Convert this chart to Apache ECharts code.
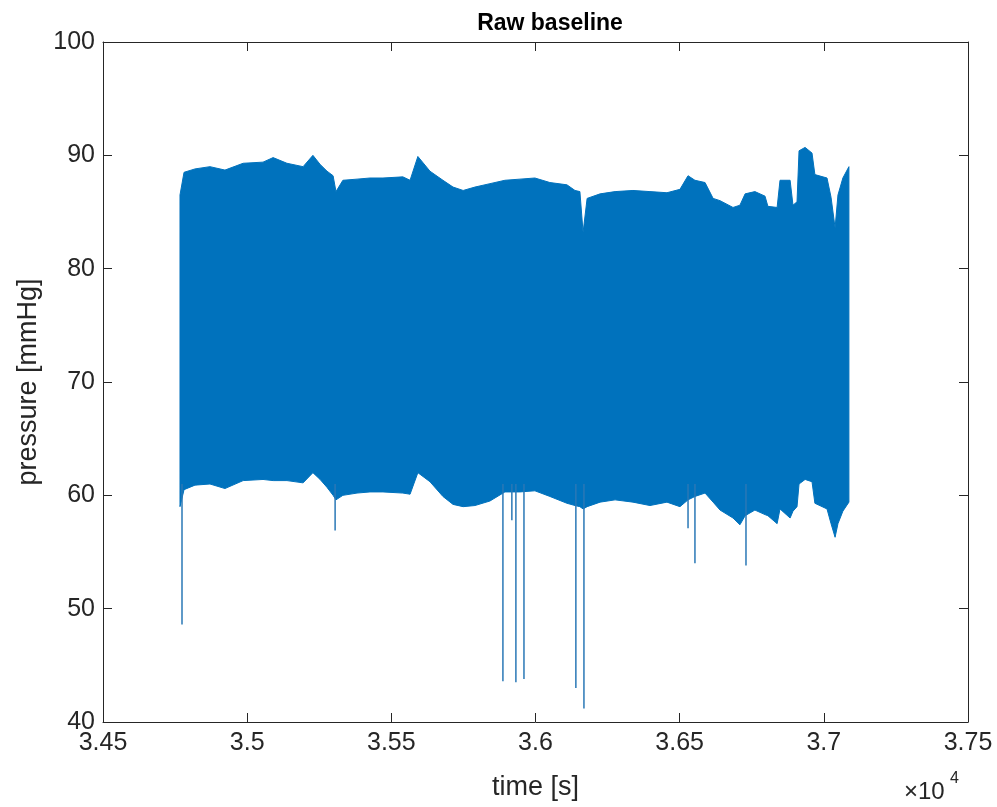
<!DOCTYPE html>
<html>
<head>
<meta charset="utf-8">
<title>Raw baseline</title>
<script src="https://cdn.jsdelivr.net/npm/echarts@6/dist/echarts.min.js"></script>
<style>
    html, body { margin: 0; padding: 0; background: #fff; }
    #chart { width: 997px; height: 807px; }
</style>
</head>
<body>
<div id="chart"></div>
<script>
// envelope of the raw pressure signal (top and bottom of the dense trace)
var times = [34767, 34781, 34819, 34871, 34923, 34986, 35055, 35090, 35138, 35194, 35228, 35253, 35277, 35298, 35308,
    35332, 35381, 35426, 35471, 35540, 35565, 35592, 35634, 35679, 35714, 35749, 35790, 35842, 35894, 35946, 35998,
    36050, 36109, 36137, 36154, 36165, 36179, 36224, 36276, 36338, 36397, 36456,
    36501, 36529, 36553, 36588, 36616, 36640, 36685, 36709, 36727, 36761, 36796, 36806, 36838, 36848, 36883,
    36893, 36907, 36914, 36935, 36959, 36969, 37011, 37025, 37039, 37049, 37066, 37087];
var upper = [86.5, 88.5, 88.8, 89.0, 88.7, 89.3, 89.4, 89.8, 89.3, 89.0, 90.0, 89.2, 88.6, 88.2, 86.8,
    87.8, 87.9, 88.0, 88.0, 88.1, 87.8, 89.9, 88.6, 87.8, 87.2, 86.9, 87.2, 87.5, 87.8, 87.9, 88.0,
    87.6, 87.4, 86.9, 86.8, 83.2, 86.2, 86.6, 86.8, 86.9, 86.8, 86.7,
    87.0, 88.2, 87.8, 87.6, 86.2, 86.0, 85.4, 85.6, 86.6, 86.8, 86.4, 85.5, 85.4, 87.8, 87.8,
    85.6, 85.9, 90.4, 90.7, 90.2, 88.3, 88.0, 86.3, 83.6, 86.5, 88.0, 89.0];
var lower = [59.0, 60.5, 60.9, 61.0, 60.6, 61.3, 61.4, 61.3, 61.3, 61.1, 62.0, 61.4, 60.7, 60.0, 59.6,
    60.0, 60.2, 60.3, 60.3, 60.2, 60.1, 62.0, 61.2, 59.9, 59.2, 59.0, 59.1, 59.5, 60.3, 60.3, 60.4,
    59.9, 59.3, 59.1, 59.0, 58.8, 59.0, 59.4, 59.6, 59.4, 59.1, 59.4,
    59.0, 59.6, 59.9, 60.2, 59.4, 58.7, 58.0, 57.4, 58.2, 58.7, 58.3, 58.2, 57.5, 58.8, 58.0,
    58.6, 59.0, 61.0, 61.4, 61.2, 59.3, 58.8, 57.5, 56.3, 57.5, 58.6, 59.4];

// single downward spikes
var spikeTimes = [34774, 35305, 35887, 35918, 35932, 35960, 36140, 36168, 36529, 36553, 36730];
var spikeMins = [48.6, 56.9, 43.6, 57.8, 43.5, 43.8, 43.0, 41.2, 57.1, 54.0, 53.8];

var myChart = echarts.init(document.getElementById('chart'));

var seriesList = [
    {
        // filled band between the two envelopes
        type: 'custom',
        data: [[times[0], upper[0]]],
        encode: {x: 0, y: 1},
        renderItem: function (params, api) {
            var pts = [];
            for (var i = 0; i < times.length; i++) {
                pts.push(api.coord([times[i], upper[i]]));
            }
            for (var j = times.length - 1; j >= 0; j--) {
                pts.push(api.coord([times[j], lower[j]]));
            }
            return {
                type: 'polygon',
                shape: {points: pts},
                style: {fill: '#0072BD', stroke: '#0072BD', lineWidth: 1}
            };
        }
    }
];
for (var k = 0; k < spikeTimes.length; k++) {
    seriesList.push({
        type: 'line', symbol: 'none',
        data: [[spikeTimes[k], 61], [spikeTimes[k], spikeMins[k]]],
        lineStyle: {color: '#2a78b6', width: 1.5}
    });
}

var textColor = '#262626';
var font = '"Liberation Sans", Arial, sans-serif';

myChart.setOption({
    animation: false,
    title: {
        text: 'Raw baseline',
        left: 545, top: 7, textAlign: 'center',
        textStyle: {fontFamily: font, fontSize: 23, fontWeight: 'bold', color: '#000'}
    },
    grid: {left: 103, right: 29, top: 42, bottom: 85},
    xAxis: [
        {
            type: 'value', min: 34500, max: 37500, interval: 500,
            name: 'time [s]', nameLocation: 'middle', nameGap: 52,
            nameTextStyle: {fontFamily: font, fontSize: 27, color: textColor},
            axisLine: {onZero: false, lineStyle: {color: textColor, width: 1}},
            axisTick: {inside: true, length: 9, lineStyle: {color: textColor}},
            axisLabel: {
                margin: 9, fontFamily: font, fontSize: 25, color: textColor,
                formatter: function (v) { return String(v / 10000); }
            },
            splitLine: {show: false}
        },
        {
            type: 'value', position: 'top', min: 34500, max: 37500, interval: 500,
            axisLine: {onZero: false, lineStyle: {color: textColor, width: 1}},
            axisTick: {inside: true, length: 9, lineStyle: {color: textColor}},
            axisLabel: {show: false},
            splitLine: {show: false}
        }
    ],
    yAxis: [
        {
            type: 'value', min: 40, max: 100, interval: 10,
            name: 'pressure [mmHg]', nameLocation: 'middle', nameGap: 60,
            nameTextStyle: {fontFamily: font, fontSize: 27, color: textColor},
            axisLine: {show: true, onZero: false, lineStyle: {color: textColor, width: 1}},
            axisTick: {show: true, inside: true, length: 9, lineStyle: {color: textColor}},
            axisLabel: {margin: 8, fontFamily: font, fontSize: 25, color: textColor},
            splitLine: {show: false}
        },
        {
            type: 'value', position: 'right', min: 40, max: 100, interval: 10,
            axisLine: {show: true, onZero: false, lineStyle: {color: textColor, width: 1}},
            axisTick: {show: true, inside: true, length: 9, lineStyle: {color: textColor}},
            axisLabel: {show: false},
            splitLine: {show: false}
        }
    ],
    graphic: [
        {
            type: 'text', left: 904, top: 780,
            style: {text: '×10', font: '24px ' + font, fill: textColor}
        },
        {
            type: 'text', left: 950, top: 771,
            style: {text: '4', font: '16px ' + font, fill: textColor}
        }
    ],
    series: seriesList
});
</script>
</body>
</html>
